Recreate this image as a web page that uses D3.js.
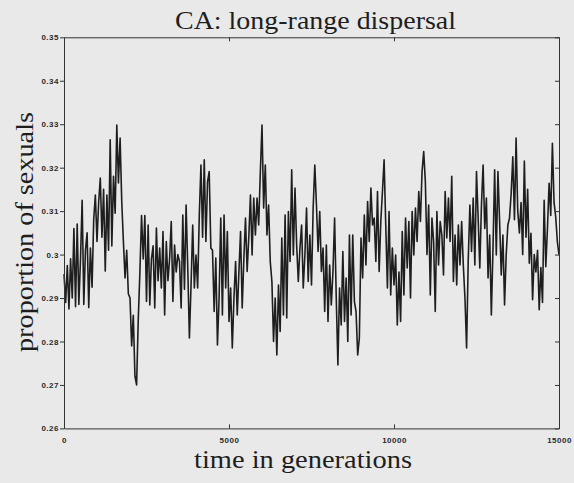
<!DOCTYPE html>
<html>
<head>
<meta charset="utf-8">
<script src="https://cdn.jsdelivr.net/npm/d3@7"></script>
<style>
  html, body { margin: 0; padding: 0; background: #e9e9e9; }
  svg { display: block; }
</style>
</head>
<body>
<div id="chart"></div>
<script>
// ---- data ----
const titleText = "CA: long-range dispersal";
const xLabelText = "time in generations";
const yLabelText = "proportion of sexuals";
const xDomain = [0, 15000];
const yDomain = [0.26, 0.35];
const xTickValues = [0, 5000, 10000, 15000];
const xTickLabels = ["0", "5000", "10000", "15000"];
const yTickValues = [0.26, 0.27, 0.28, 0.29, 0.30, 0.31, 0.32, 0.33, 0.34, 0.35];
const yTickLabels = ["0.26", "0.27", "0.28", "0.29", "0.3", "0.31", "0.32", "0.33", "0.34", "0.35"];
const sampleStep = 50; // generations between samples
const proportionSexuals = [
  0.2955, 0.2890, 0.2975, 0.2875, 0.2990, 0.2900, 0.3060, 0.2880, 0.3070, 0.2885,
  0.2990, 0.3125, 0.2885, 0.3010, 0.3050, 0.2878, 0.3015, 0.2925, 0.3080, 0.3137,
  0.3030, 0.3120, 0.3176, 0.3040, 0.3150, 0.2962, 0.3137, 0.3010, 0.3264, 0.3020,
  0.3180, 0.3095, 0.3298, 0.3165, 0.3268, 0.3122, 0.3030, 0.2946, 0.3010, 0.2910,
  0.2900, 0.2790, 0.2860, 0.2720, 0.2700, 0.2850, 0.2960, 0.3090, 0.2990, 0.3090,
  0.2892, 0.3068, 0.2884, 0.2990, 0.3020, 0.2877, 0.3061, 0.2940, 0.3015, 0.2923,
  0.3053, 0.2861, 0.3030, 0.2940, 0.2990, 0.3076, 0.2892, 0.3022, 0.2960, 0.3000,
  0.2984, 0.2877, 0.3091, 0.2920, 0.3114, 0.2970, 0.2808, 0.2930, 0.3068, 0.2923,
  0.2999, 0.2923, 0.3091, 0.3206, 0.3040, 0.3218, 0.3030, 0.3168, 0.3191, 0.3015,
  0.3010, 0.2869, 0.2992, 0.2792, 0.2900, 0.3084, 0.2861, 0.3091, 0.2923, 0.3053,
  0.2846, 0.2923, 0.2785, 0.2900, 0.2984, 0.2861, 0.2960, 0.3053, 0.2877, 0.2990,
  0.3084, 0.2961, 0.3040, 0.3137, 0.2999, 0.3130, 0.3045, 0.3130, 0.3068, 0.3191,
  0.3298, 0.3107, 0.3206, 0.3045, 0.3114, 0.2984, 0.2938, 0.2800, 0.2900, 0.2769,
  0.2930, 0.2823, 0.3038, 0.2861, 0.3091, 0.2854, 0.3099, 0.2984, 0.3195, 0.2999,
  0.3153, 0.3022, 0.2938, 0.3015, 0.3068, 0.2923, 0.2999, 0.3107, 0.2938, 0.3045,
  0.2930, 0.3107, 0.3206, 0.3114, 0.3007, 0.3099, 0.2961, 0.3015, 0.2869, 0.3022,
  0.2846, 0.2976, 0.2884, 0.2960, 0.3084, 0.2900, 0.2746, 0.2923, 0.2838, 0.3007,
  0.2846, 0.2946, 0.2800, 0.3045, 0.2861, 0.3045, 0.2892, 0.2869, 0.2769, 0.2808,
  0.3038, 0.2946, 0.3091, 0.2976, 0.3122, 0.3030, 0.3153, 0.3068, 0.3084, 0.2984,
  0.3145, 0.2961, 0.3076, 0.3145, 0.3218, 0.3068, 0.2923, 0.3099, 0.2907, 0.3015,
  0.2930, 0.2999, 0.2838, 0.2960, 0.2846, 0.3053, 0.2907, 0.3084, 0.2969, 0.3076,
  0.2900, 0.3099, 0.2999, 0.3107, 0.3030, 0.3145, 0.3076, 0.3191, 0.3237, 0.3168,
  0.3000, 0.3114, 0.2907, 0.3084, 0.3030, 0.2869, 0.3099, 0.2976, 0.3076, 0.3045,
  0.2953, 0.3145, 0.3038, 0.3130, 0.3030, 0.3180, 0.2938, 0.3045, 0.2930, 0.3068,
  0.2976, 0.3076, 0.2976, 0.2900, 0.2785, 0.2990, 0.3114, 0.3007, 0.3130, 0.2976,
  0.3191, 0.3084, 0.2969, 0.3114, 0.3206, 0.3060, 0.3130, 0.2946, 0.3045, 0.2861,
  0.3015, 0.3195, 0.2999, 0.3191, 0.3076, 0.2953, 0.3045, 0.2884, 0.3000, 0.3068,
  0.3084, 0.3140, 0.3225, 0.3080, 0.3268, 0.3100, 0.3050, 0.3120, 0.3000, 0.3215,
  0.3040, 0.3150, 0.2980, 0.3049, 0.2896, 0.3000, 0.2960, 0.3010, 0.2873, 0.2970,
  0.2890, 0.3125, 0.2972, 0.3060, 0.3164, 0.3090, 0.3256, 0.3120, 0.3087, 0.3030,
  0.3000
];

// ---- layout ----
const W = 574, H = 483;
const plot = { left: 64, right: 559, top: 37.3, bottom: 428.4 };
const ink = "#1e1e1e";
const axisInk = "#333";

const svg = d3.select("#chart").append("svg")
  .attr("width", W).attr("height", H)
  .style("background", "#e9e9e9");

const x = d3.scaleLinear().domain(xDomain).range([plot.left, plot.right]);
const y = d3.scaleLinear().domain(yDomain).range([plot.bottom, plot.top]);

const series = proportionSexuals.map((v, i) => ({ t: i * sampleStep, v }));

// line
svg.append("path")
  .datum(series)
  .attr("fill", "none")
  .attr("stroke", ink)
  .attr("stroke-width", 1.6)
  .attr("stroke-linejoin", "round")
  .attr("d", d3.line().x(d => x(d.t)).y(d => y(d.v)));

// axes
const tickFont = "'Liberation Sans', Arial, sans-serif";
const bottomAxis = d3.axisBottom(x).tickValues(xTickValues)
  .tickFormat((d, i) => xTickLabels[i]).tickSizeInner(-4).tickSizeOuter(0).tickPadding(9);
const topAxis = d3.axisTop(x).tickValues(xTickValues)
  .tickFormat("").tickSizeInner(-4).tickSizeOuter(0);
const leftAxis = d3.axisLeft(y).tickValues(yTickValues)
  .tickFormat((d, i) => yTickLabels[i]).tickSizeInner(4).tickSizeOuter(0).tickPadding(1);
const rightAxis = d3.axisRight(y).tickValues(yTickValues)
  .tickFormat("").tickSizeInner(-4).tickSizeOuter(0);

function styleAxis(g) {
  g.select(".domain").attr("stroke", axisInk).attr("stroke-width", 1);
  g.selectAll(".tick line").attr("stroke", axisInk).attr("stroke-width", 1);
  g.selectAll(".tick text")
    .attr("fill", "#2a2a2a")
    .style("font-family", tickFont)
    .style("font-size", "8px")
    .style("font-weight", "bold")
    .style("letter-spacing", "0.5px");
}

svg.append("g").attr("transform", `translate(0,${plot.bottom})`).call(bottomAxis).call(styleAxis);
svg.append("g").attr("transform", `translate(0,${plot.top})`).call(topAxis).call(styleAxis);
svg.append("g").attr("transform", `translate(${plot.left},0)`).call(leftAxis).call(styleAxis);
svg.append("g").attr("transform", `translate(${plot.right},0)`).call(rightAxis).call(styleAxis);

// texts
const serif = "'Liberation Serif', 'DejaVu Serif', serif";
svg.append("text")
  .attr("x", 315.5).attr("y", 29)
  .attr("text-anchor", "middle")
  .attr("textLength", 281).attr("lengthAdjust", "spacingAndGlyphs")
  .style("font-family", serif).style("font-size", "25px").attr("fill", ink)
  .text(titleText);

svg.append("text")
  .attr("x", 303).attr("y", 468)
  .attr("text-anchor", "middle")
  .attr("textLength", 218).attr("lengthAdjust", "spacingAndGlyphs")
  .style("font-family", serif).style("font-size", "25px").attr("fill", ink)
  .text(xLabelText);

svg.append("text")
  .attr("transform", "translate(33,232) rotate(-90)")
  .attr("text-anchor", "middle")
  .attr("textLength", 240).attr("lengthAdjust", "spacingAndGlyphs")
  .style("font-family", serif).style("font-size", "25px").attr("fill", ink)
  .text(yLabelText);
</script>
</body>
</html>
